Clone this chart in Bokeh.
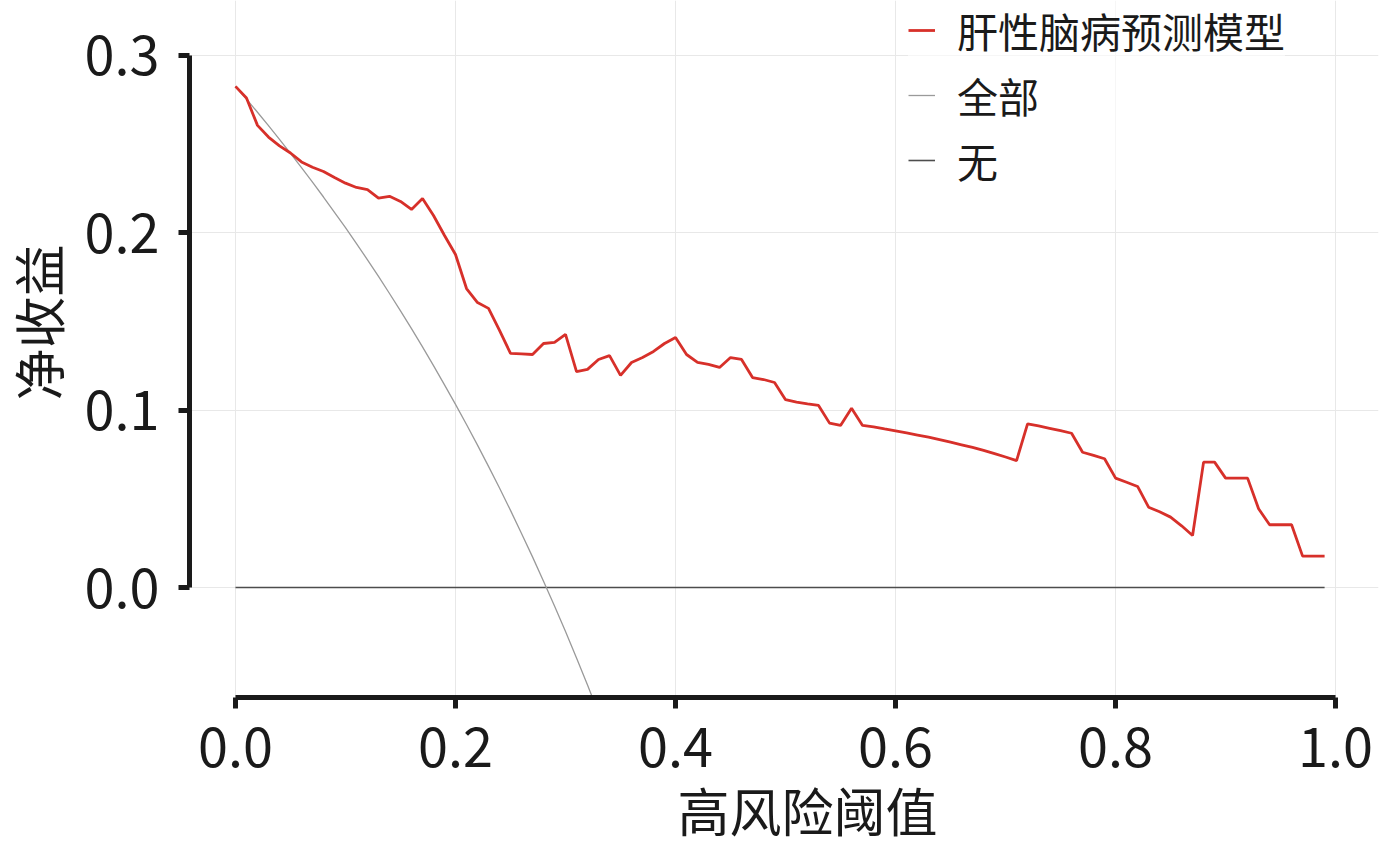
from bokeh.plotting import figure
from bokeh.models import Range1d, FixedTicker, NumeralTickFormatter, Title, Legend, LegendItem
from bokeh.embed import file_html
from bokeh.resources import INLINE

FONT = "Noto Sans CJK SC"

# ---------------- data ----------------
thresholds = [round(i * 0.01, 2) for i in range(100)]  # 0.00 ... 0.99

model_nb = [
    0.2826, 0.2760, 0.2606, 0.2540, 0.2490, 0.2450, 0.2400, 0.2370, 0.2346, 0.2312,
    0.2280, 0.2256, 0.2244, 0.2196, 0.2206, 0.2177, 0.2132, 0.2193, 0.2098, 0.1985,
    0.1878, 0.1686, 0.1607, 0.1574, 0.1450, 0.1320, 0.1318, 0.1314, 0.1376, 0.1382,
    0.1427, 0.1218, 0.1230, 0.1286, 0.1308, 0.1196, 0.1269, 0.1297, 0.1331, 0.1376,
    0.1410, 0.1314, 0.1269, 0.1258, 0.1241, 0.1297, 0.1286, 0.1184, 0.1173, 0.1156,
    0.1059, 0.1046, 0.1036, 0.1027, 0.0927, 0.0914, 0.1011, 0.0914, 0.0906, 0.0894,
    0.0883, 0.0872, 0.0860, 0.0848, 0.0834, 0.0820, 0.0805, 0.0790, 0.0773, 0.0755,
    0.0736, 0.0716, 0.0923, 0.0911, 0.0898, 0.0885, 0.0870, 0.0763, 0.0745, 0.0726,
    0.0617, 0.0594, 0.0570, 0.0453, 0.0427, 0.0397, 0.0348, 0.0293, 0.0707, 0.0707,
    0.0617, 0.0617, 0.0617, 0.0444, 0.0354, 0.0354, 0.0354, 0.0177, 0.0177, 0.0177,
]

all_thresholds = thresholds[:34]
all_nb = [
    0.2826, 0.2754, 0.2680, 0.2604, 0.2527, 0.2448, 0.2368, 0.2286, 0.2202, 0.2116,
    0.2029, 0.1939, 0.1848, 0.1754, 0.1658, 0.1560, 0.1460, 0.1357, 0.1251, 0.1143,
    0.1033, 0.0919, 0.0803, 0.0683, 0.0561, 0.0435, 0.0305, 0.0173, 0.0036, -0.0104,
    -0.0248, -0.0397, -0.0550, -0.0707,
]

none_nb = [0.0] * len(thresholds)

series_labels = ["肝性脑病预测模型", "全部", "无"]
x_ticks = [0.0, 0.2, 0.4, 0.6, 0.8, 1.0]
y_ticks = [0.0, 0.1, 0.2, 0.3]
x_title = "高风险阈值"
y_title = "净收益"

# ---------------- figure ----------------
W, H = 1397, 848
p = figure(
    width=W, height=H,
    output_backend="svg", toolbar_location=None,
    x_range=Range1d(-0.0418, 1.0390), y_range=Range1d(-0.0620, 0.3310),
    min_border_left=188, min_border_right=19, min_border_top=0, min_border_bottom=151,
)
p.outline_line_color = None
p.background_fill_color = "white"
p.border_fill_color = "white"

r_none = p.line(thresholds, none_nb, line_color="#4d4d4d", line_width=1.6)
r_all = p.line(all_thresholds, all_nb, line_color="#9a9a9a", line_width=1.3)
r_model = p.line(thresholds, model_nb, line_color="#d7302a", line_width=2.8)

# axes
for ax in (p.xaxis[0], p.yaxis[0]):
    ax.axis_line_width = 5
    ax.axis_line_color = "#1a1a1a"
    ax.major_tick_line_width = 5
    ax.major_tick_line_color = "#1a1a1a"
    ax.major_tick_out = 11
    ax.major_tick_in = 0
    ax.minor_tick_line_color = None
    ax.major_label_text_font = FONT
    ax.major_label_text_font_size = "54px"
    ax.major_label_text_color = "#1a1a1a"
    ax.formatter = NumeralTickFormatter(format="0.0")

p.xaxis[0].ticker = FixedTicker(ticks=x_ticks)
p.yaxis[0].ticker = FixedTicker(ticks=y_ticks)
p.xaxis[0].bounds = (0, 1)
p.yaxis[0].bounds = (0, 0.3)
p.xaxis[0].major_label_standoff = 18
p.yaxis[0].major_label_standoff = 19

p.xgrid.grid_line_color = "#e8e8e8"
p.ygrid.grid_line_color = "#e8e8e8"
p.xgrid.grid_line_width = 1
p.ygrid.grid_line_width = 1

# axis titles
p.add_layout(Title(text=x_title, align="left", offset=488, standoff=0,
                   text_font=FONT, text_font_size="52px", text_color="#1a1a1a",
                   text_font_style="normal"), "below")
p.add_layout(Title(text=y_title, align="left", offset=297, standoff=19,
                   text_font="DejaVu Sans, Noto Sans CJK SC", text_font_size="52px",
                   text_color="#1a1a1a", text_font_style="normal"), "left")

# legend
legend = Legend(
    items=[LegendItem(label=series_labels[0], renderers=[r_model]),
           LegendItem(label=series_labels[1], renderers=[r_all]),
           LegendItem(label=series_labels[2], renderers=[r_none])],
    location=(719, 507),
    label_text_font=FONT, label_text_font_size="41px", label_text_color="#1a1a1a",
    glyph_width=27, glyph_height=40, label_height=40, label_standoff=22,
    spacing=5, padding=0, margin=0,
    border_line_color=None, background_fill_color="white", background_fill_alpha=0.6,
)
p.add_layout(legend, "center")

open("out.html", "w").write(file_html(p, INLINE))
